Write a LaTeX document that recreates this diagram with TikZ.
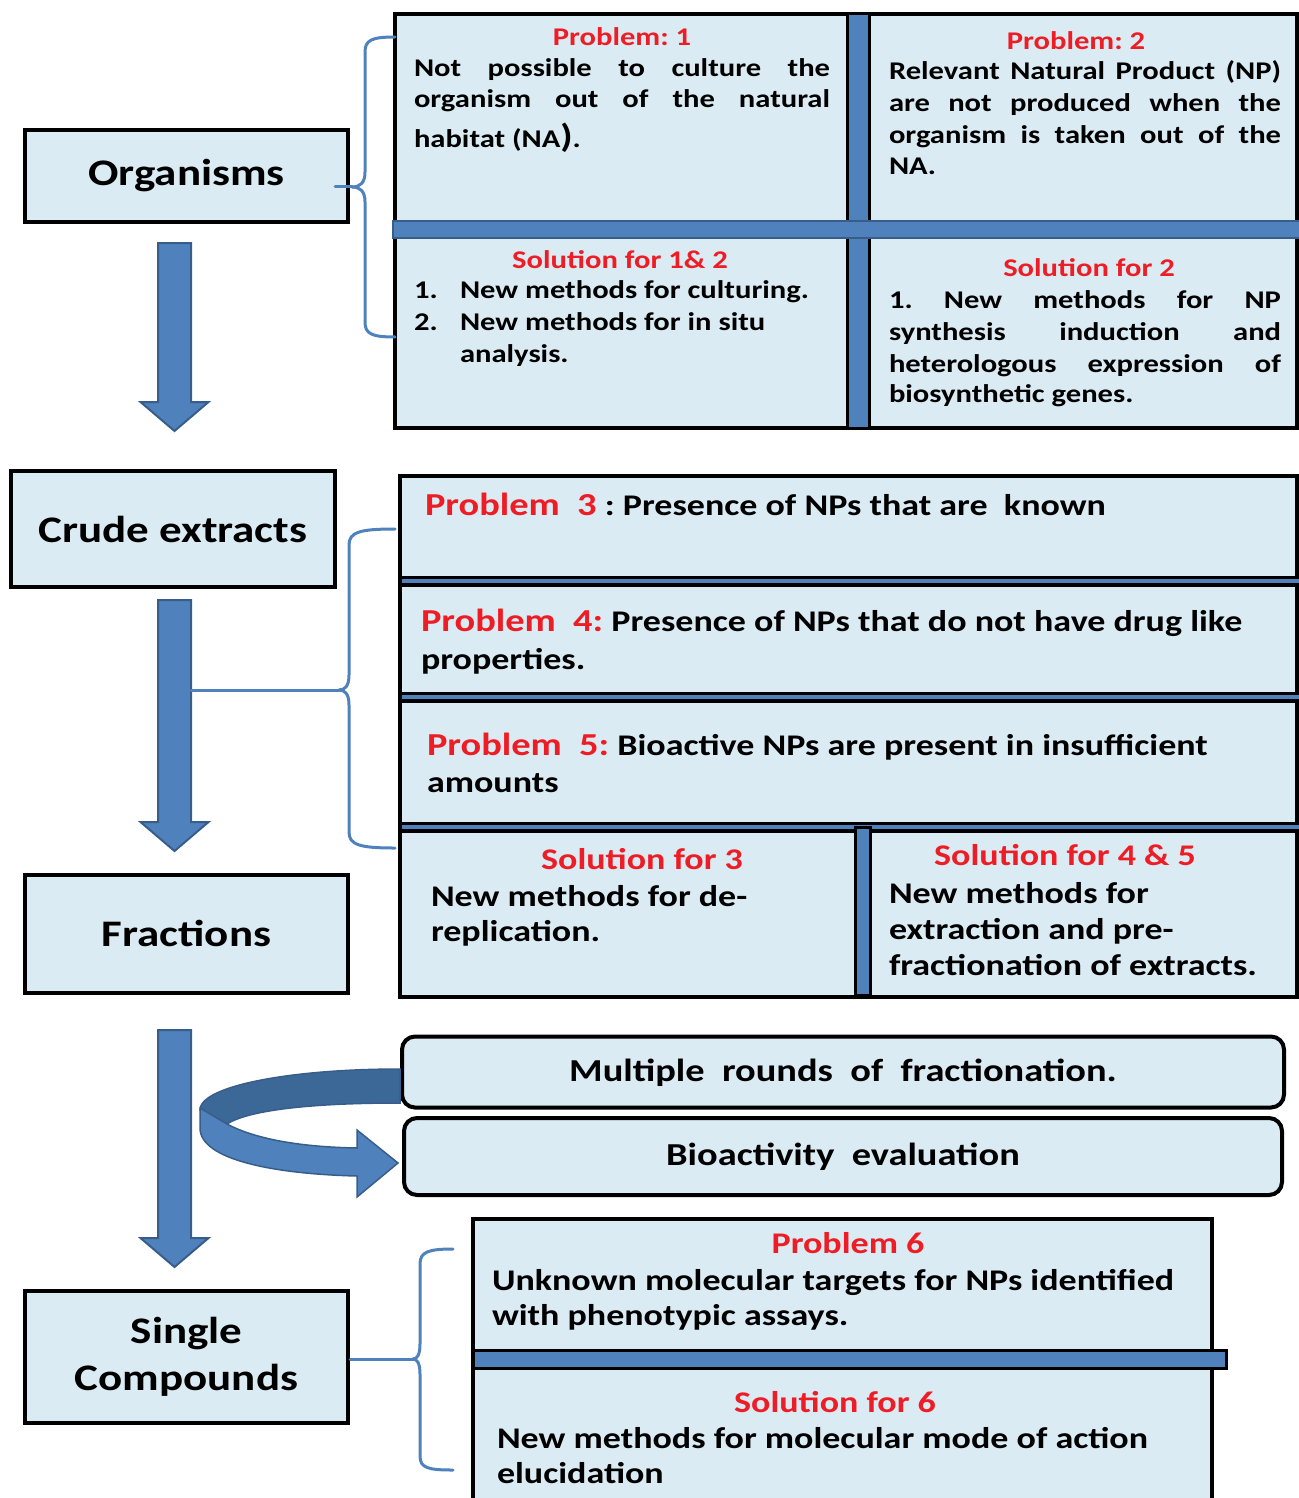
\documentclass[tikz,border=0pt]{standalone}
\usepackage{fontspec}
\setmainfont{Carlito}[FakeStretch=1.2]
\usetikzlibrary{calc}
\frenchspacing
\definecolor{boxfill}{HTML}{DAEBF3}
\definecolor{barblue}{HTML}{4F81BD}
\definecolor{bardark}{HTML}{385D8A}
\definecolor{banddark}{HTML}{3C6898}
\definecolor{ttred}{HTML}{EE1D25}
\newcommand\szS{\fontsize{25.5}{31}\selectfont}
\newcommand\szM{\fontsize{30}{36}\selectfont}
\newcommand\szR{\fontsize{32}{38}\selectfont}
\newcommand\szL{\fontsize{37.5}{47}\selectfont}
\newcommand\jl[2]{\makebox[#1][s]{#2}}
\newcommand\blockarr[4]{\path[barrow] ({#1-16.5},#2) -- ({#1+16.5},#2) -- ({#1+16.5},#3) -- ({#1+34},#3) -- (#1,#4) -- ({#1-34},#3) -- ({#1-16.5},#3) -- cycle;}
\begin{document}
\begin{tikzpicture}[x=1pt,y=-1pt,
  txt/.style={anchor=base west, inner sep=0pt, outer sep=0pt, font=\bfseries\szS},
  ctxt/.style={anchor=base, inner sep=0pt, outer sep=0pt, font=\bfseries\szS, text=ttred},
  mtxt/.style={anchor=base west, inner sep=0pt, outer sep=0pt, font=\bfseries\szM},
  mctxt/.style={anchor=base, inner sep=0pt, outer sep=0pt, font=\bfseries\szM, text=ttred},
  leftbox/.style={draw=black, line width=4pt, fill=boxfill, inner sep=0pt, font=\bfseries\szL, align=center},
  rbox/.style={draw=black, line width=4pt, fill=boxfill, rounded corners=13pt, inner sep=0pt, font=\bfseries\szR, text height=24pt, text depth=6pt},
  frame/.style={draw=black, line width=4pt, fill=boxfill},
  vbar/.style={draw=black, line width=3pt, fill=barblue},
  hbar/.style={draw=bardark, line width=2pt, fill=barblue},
  brace/.style={draw=barblue, line width=3pt, line cap=round, line join=round},
  barrow/.style={fill=barblue, draw=bardark, line width=2pt, line join=miter}
]
\useasboundingbox (0,0) rectangle (1298,1498);

% ---------- left boxes ----------
\node[leftbox, minimum width=323pt, minimum height=92pt] (org) at (186.5,176) {Organisms};
\node[leftbox, minimum width=324pt, minimum height=116pt] (crude) at (173,529) {Crude extracts};
\node[leftbox, minimum width=323pt, minimum height=118pt] (frac) at (186.5,933.5) {Fractions};
\node[leftbox, minimum width=323pt, minimum height=132pt] (single) at (186.5,1356.5) {Single\\Compounds};

% ---------- block arrows ----------
\blockarr{174.5}{243}{402}{431}
\blockarr{174.5}{600}{822}{851}
\blockarr{174.5}{1030}{1238}{1267}

% ---------- top block ----------
\path[frame] (395,14) rectangle (1297,428);
\path[vbar] (847,14) rectangle (869,428);
\path[hbar] (393,221) rectangle (1300,238);

\node[ctxt] (p1t) at (622,46) {Problem: 1};
\node[txt] (p1a) at (414,77) {\jl{416pt}{Not possible to culture the}};
\node[txt] (p1b) at (414,108) {\jl{416pt}{organism out of the natural}};
\node[txt] (p1c) at (414,148) {habitat (NA{\fontsize{33}{33}\selectfont)}.};

\node[ctxt] (p2t) at (1076,50) {Problem: 2};
\node[txt] (p2a) at (889,80) {\jl{392pt}{Relevant Natural Product (NP)}};
\node[txt] (p2b) at (889,112) {\jl{392pt}{are not produced when the}};
\node[txt] (p2c) at (889,144) {\jl{392pt}{organism is taken out of the}};
\node[txt] (p2d) at (889,175) {NA.};

\node[ctxt] (s12t) at (620,268) {Solution for 1\& 2};
\node[txt] (s12n1) at (414,298) {1.};
\node[txt] (s12a) at (460,298) {New methods for culturing.};
\node[txt] (s12n2) at (414,330) {2.};
\node[txt] (s12b) at (460,330) {New methods for in situ};
\node[txt] (s12c) at (460,362) {analysis.};

\node[ctxt] (s2t) at (1089,276) {Solution for 2};
\node[txt] (s2a) at (889,308) {\jl{392pt}{1. New methods for NP}};
\node[txt] (s2b) at (889,340) {\jl{392pt}{synthesis induction and}};
\node[txt] (s2c) at (889,372) {\jl{392pt}{heterologous expression of}};
\node[txt] (s2d) at (889,402) {biosynthetic genes.};

% brace 1
\coordinate (tip1) at (352,187);
\draw[brace] (395,37) .. controls (372,37) and (365,40) .. (365,52) -- (365,172) .. controls (365,183) and (360,187) .. (tip1);
\draw[brace] (tip1) .. controls (360,187) and (365,191) .. (365,202) -- (365,322) .. controls (365,334) and (372,337) .. (395,337);
\draw[brace] ($(org.east |- tip1)+(-15pt,0)$) -- (tip1);

% ---------- middle block ----------
\path[frame] (400,476) rectangle (1297,997);
\foreach \yy in {581,697,827} {
  \draw[line width=11pt, black] (400,\yy) -- (1297,\yy);
  \draw[line width=4pt, barblue] (402,\yy) -- (1299,\yy);
}
\path[vbar] (855,827) rectangle (870,995);

\node[mtxt] (p3) at (425,515) {{\color{ttred}\szR Problem\ \ 3} : Presence of NPs that are\ \ known};
\node[mtxt] (p4a) at (421,631) {{\color{ttred}\szR Problem\ \ 4:} Presence of NPs that do not have drug like};
\node[mtxt] (p4b) at (421,669) {properties.};
\node[mtxt] (p5a) at (427,755) {{\color{ttred}\szR Problem\ \ 5:} Bioactive NPs are present in insufficient};
\node[mtxt] (p5b) at (427,792) {amounts};

\node[mctxt] (s3t) at (642,869) {Solution for 3};
\node[mtxt] (s3a) at (431,906) {New methods for de-};
\node[mtxt] (s3b) at (431,941) {replication.};

\node[mctxt] (s45t) at (1065,865) {Solution for 4 \& 5};
\node[mtxt] (s45a) at (889,903) {New methods for};
\node[mtxt] (s45b) at (889,939) {extraction and pre-};
\node[mtxt] (s45c) at (889,975) {fractionation of extracts.};

% brace 2
\coordinate (tip2) at (339,690);
\coordinate (shaft2) at (191,690);
\draw[brace] (395,529) .. controls (360,529) and (349,532) .. (349,545) -- (349,675) .. controls (349,686) and (345,690) .. (tip2);
\draw[brace] (tip2) .. controls (345,690) and (349,694) .. (349,705) -- (349,832) .. controls (349,845) and (360,848) .. (395,848);
\draw[brace] (shaft2) -- (tip2);

% ---------- fractionation loop ----------
\node[rbox, minimum width=882pt, minimum height=71pt] (mult) at (843,1072) {Multiple\ \ rounds\ \ of\ \ fractionation.};
\node[rbox, minimum width=878pt, minimum height=77pt] (bio) at (843,1156.5) {Bioactivity\ \ evaluation};

\path[fill=banddark, draw=bardark, line width=1.5pt] (400,1069) .. controls (290,1069) and (200,1086) .. (200,1110) -- (227,1124) .. controls (247,1111) and (305,1103) .. (400,1103) -- cycle;
\path[fill=barblue, draw=bardark, line width=1.5pt, line join=miter] (200,1108) -- (227,1124) .. controls (255,1139) and (300,1147) .. (357,1148) -- (357,1130) -- (398,1163) -- (357,1197) -- (357,1176) .. controls (275,1174) and (200,1160) .. (200,1128) -- cycle;

% ---------- bottom block ----------
\path[frame] (473,1219) rectangle (1212,1520);
\path[vbar] (473,1350) rectangle (1226,1368);

\node[mctxt] (p6t) at (848,1253) {Problem 6};
\node[mtxt] (p6a) at (492,1290) {Unknown molecular targets for NPs identified};
\node[mtxt] (p6b) at (492,1325) {with phenotypic assays.};
\node[mctxt] (s6t) at (835,1412) {Solution for 6};
\node[mtxt] (s6a) at (497,1448) {New methods for molecular mode of action};
\node[mtxt] (s6b) at (497,1483) {elucidation};

% brace 3
\coordinate (tip3) at (413,1359);
\draw[brace] (453,1249) .. controls (428,1249) and (420,1252) .. (420,1264) -- (420,1344) .. controls (420,1355) and (417,1359) .. (tip3);
\draw[brace] (tip3) .. controls (417,1359) and (420,1363) .. (420,1374) -- (420,1456) .. controls (420,1468) and (428,1470) .. (453,1470);
\draw[brace] (single.east |- tip3) -- (tip3);
\end{tikzpicture}
\end{document}
